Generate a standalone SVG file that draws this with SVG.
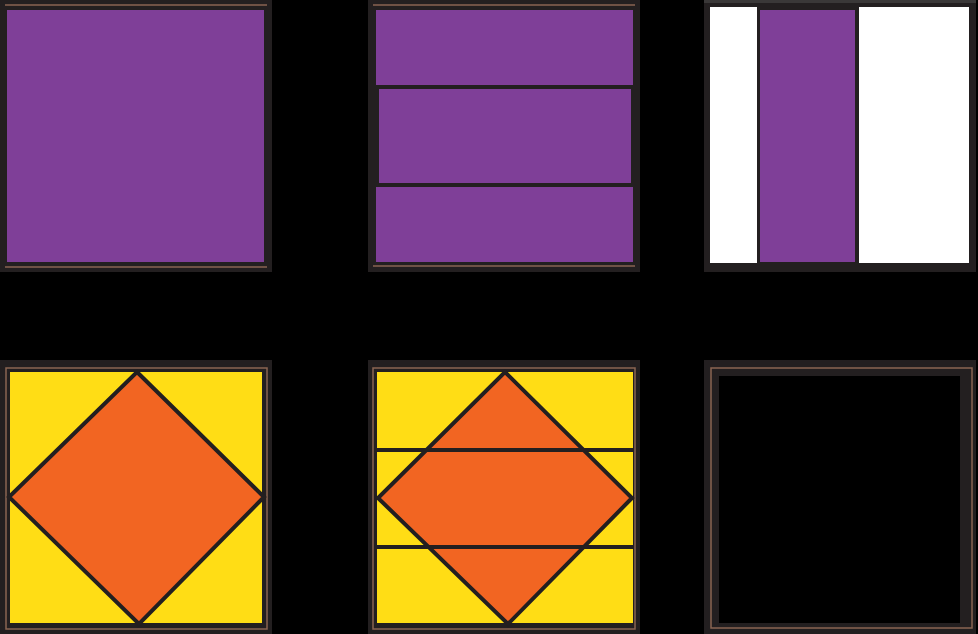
<svg xmlns="http://www.w3.org/2000/svg" width="978" height="634" viewBox="0 0 978 634">
<style>
.frame{fill:#231f20}
.purple{fill:#7f3f98}
.yellow{fill:#ffdd15}
.orange{fill:#f26522;stroke:#231f20;stroke-width:4;stroke-linejoin:miter}
.seam{stroke:#231f20;stroke-width:4;fill:none}
.cu{stroke:#8a6552;stroke-width:1.5;fill:none}
</style>
<rect x="0" y="0" width="978" height="634" fill="#000"/>
<g id="block1">
<rect class="frame" x="0" y="0" width="272" height="272"/>
<line class="cu" x1="5" y1="5" x2="267" y2="5"/>
<line class="cu" x1="5" y1="267" x2="267" y2="267"/>
<rect class="purple" x="7" y="10" width="257" height="252"/>
</g>
<g id="block2">
<rect class="frame" x="368" y="0" width="272" height="272"/>
<line class="cu" x1="373" y1="5" x2="635" y2="5"/>
<line class="cu" x1="373" y1="266" x2="635" y2="266"/>
<rect class="purple" x="376" y="10" width="257" height="75"/>
<rect class="purple" x="379" y="89" width="252" height="94"/>
<rect class="purple" x="376" y="187" width="257" height="75"/>
</g>
<g id="block3">
<rect class="frame" x="704" y="0" width="272" height="272"/>
<rect x="704" y="0" width="272" height="3" fill="#3a3838"/>
<rect x="710" y="7" width="47" height="256" fill="#fff"/>
<rect class="purple" x="760" y="10" width="95" height="252"/>
<rect x="859" y="7" width="110" height="256" fill="#fff"/>
</g>
<g id="block4">
<rect class="frame" x="0" y="360" width="272" height="274"/>
<rect class="cu" x="6" y="368" width="261" height="261"/>
<rect class="yellow" x="10" y="372" width="252" height="251"/>
<polygon class="orange" points="137,372 264,497 139,624 9,497"/>
</g>
<g id="block5">
<rect class="frame" x="368" y="360" width="272" height="274"/>
<rect class="cu" x="373" y="368" width="262" height="261"/>
<rect class="yellow" x="377" y="372" width="256" height="251"/>
<polygon class="orange" points="505,372 632,498 508,624 378,498"/>
</g>
<g id="block6">
<rect class="frame" x="704" y="360" width="272" height="274"/>
<rect class="cu" x="711" y="368" width="261" height="260"/>
<rect x="719" y="376" width="241" height="247" fill="#000"/>
</g>
<g id="connectors">
<line class="seam" x1="376" y1="450" x2="634" y2="450"/>
<line class="seam" x1="376" y1="547" x2="634" y2="547"/>
</g>
</svg>
